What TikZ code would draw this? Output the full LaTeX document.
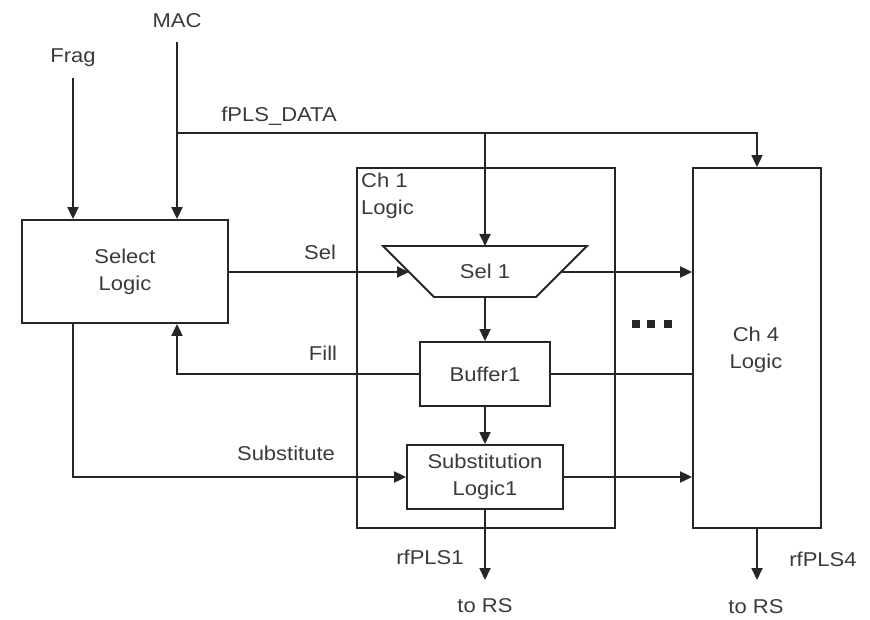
\documentclass[tikz,border=0pt]{standalone}
\usepackage{fontspec}
\setmainfont[FakeStretch=1.1]{Liberation Sans}
\usetikzlibrary{arrows.meta,calc}
\definecolor{ln}{HTML}{262626}
\definecolor{tx}{HTML}{3A3A3A}
\begin{document}
\begin{tikzpicture}[x=1pt,y=-1pt,
  font=\fontsize{20}{27}\selectfont,
  every node/.style={text=tx,inner sep=0pt},
  blk/.style={draw=ln,line width=1.8pt,fill=white,align=center},
  wire/.style={draw=ln,line width=1.8pt},
  arr/.style={wire,-{Triangle[length=12pt,width=11pt]}},
  lbl/.style={text=tx}]
\useasboundingbox (0,0) rectangle (870,620);
% boxes
\node[blk,minimum width=258pt,minimum height=360pt] (ch1) at (486,348) {};
\node[blk,minimum width=128pt,minimum height=360pt] (ch4) at (757,348) {};
\node[lbl,anchor=north west,align=left] (ch1t) at (361,173) {Ch 1\\Logic};
\node[lbl,align=center] (ch4t) at (756,350) {Ch 4\\Logic};
\node[blk,minimum width=206pt,minimum height=103pt] (sel) at (125,271.5) {Select\\Logic};
\node[blk,minimum width=130pt,minimum height=64pt] (buf) at (485,374) {Buffer1};
\node[blk,minimum width=156pt,minimum height=64pt] (sub) at (485,477) {Substitution\\Logic1};
% trapezoid
\coordinate (t1) at (383,246);
\coordinate (t2) at (587,246);
\coordinate (t3) at (536,297);
\coordinate (t4) at (434,297);
\draw[ln,line width=1.8pt,fill=white] (t1) -- (t2) -- (t3) -- (t4) -- cycle;
\node[lbl] (sel1) at (485,271) {Sel 1};
\coordinate (tt) at (485,246);
\coordinate (tb) at (485,297);
\coordinate (sl) at (409,272);
\coordinate (sr) at (561,272);
% inputs
\node[lbl] (mact) at (177,21) {MAC};
\node[lbl] (fragt) at (73,58) {Frag};
\coordinate (mac) at (177,42);
\coordinate (frag) at (73,78);
\draw[arr] (mac) -- (mac |- sel.north);
\draw[arr] (frag) -- (frag |- sel.north);
% fPLS_DATA
\coordinate (j1) at (177,133);
\coordinate (j2) at (485,133);
\node[lbl] (fpls) at (279,116) {fPLS\_DATA};
\draw[arr] (j1) -| (ch4.north);
\draw[arr] (j2) -- (tt);
% Sel
\node[lbl] (selt) at (320,252) {Sel};
\draw[arr] (sel.east |- sl) -- (sl);
\draw[arr] (sr) -- (sr -| ch4.west);
% chain
\draw[arr] (tb) -- (buf.north);
\draw[arr] (buf.south) -- (sub.north);
% Fill
\node[lbl] (fillt) at (323,353) {Fill};
\draw[arr] (buf.west) -| (sel.south -| mac);
\draw[wire] (buf.east) -- (buf.east -| ch4.west);
% Substitute
\node[lbl] (subt) at (286,453) {Substitute};
\draw[arr] (sel.south -| frag) |- (sub.west);
\draw[arr] (sub.east) -- (sub.east -| ch4.west);
% outputs
\coordinate (o1) at (485,580);
\coordinate (o4) at (757,580);
\draw[arr] (sub.south) -- (o1);
\draw[arr] (ch4.south) -- (o4);
\node[lbl] (rf1) at (430,557) {rfPLS1};
\node[lbl] (rf4) at (823,559) {rfPLS4};
\node[lbl] (rs1) at (485,606) {to RS};
\node[lbl] (rs4) at (756,607) {to RS};
% dots
\foreach \dx in {636,651,668}
  \fill[ln] (\dx-4,320) rectangle (\dx+4,328);
\end{tikzpicture}
\end{document}
